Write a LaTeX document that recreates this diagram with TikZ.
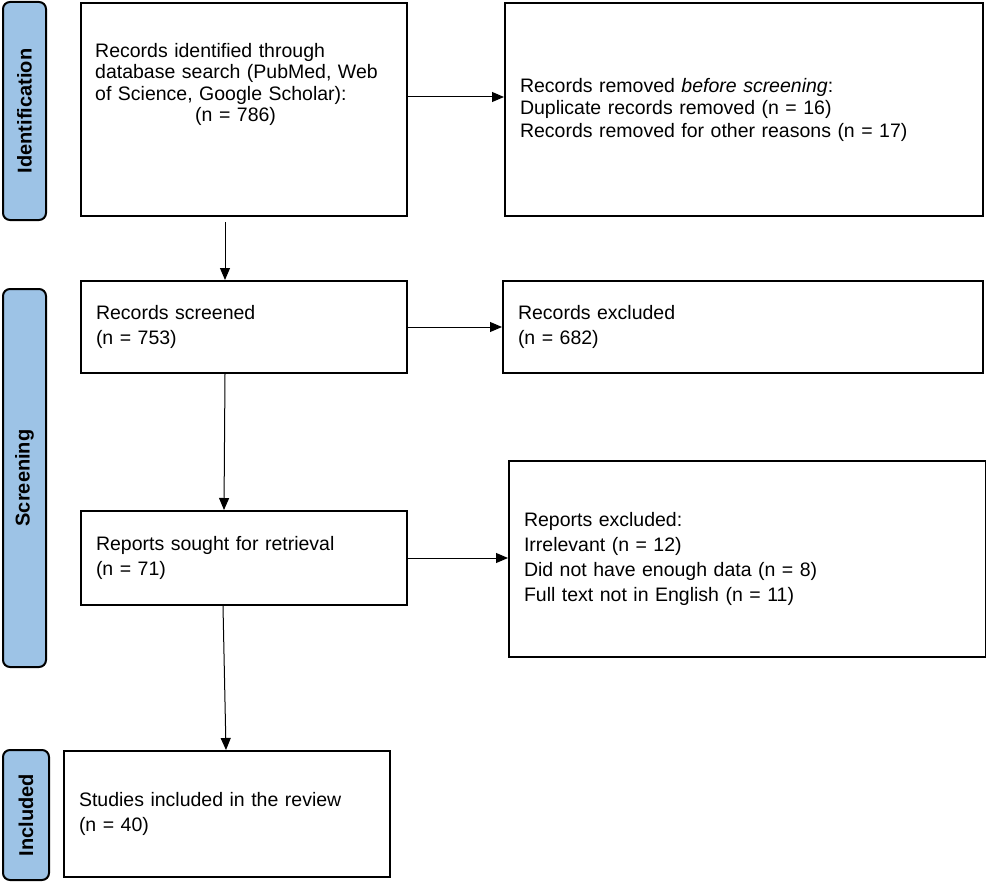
\documentclass[tikz,border=0pt]{standalone}
\usepackage{fontspec}
\setmainfont{Liberation Sans}
\usetikzlibrary{arrows.meta}
\definecolor{barblue}{RGB}{157,195,230}
\begin{document}
\begin{tikzpicture}[x=1pt,y=-1pt,
  box/.style={draw=black,line width=2pt,fill=white,rectangle,inner xsep=15pt,inner ysep=0pt,anchor=north west,align=left,font=\fontsize{19.5}{25}\selectfont},
  side/.style={draw=black,line width=2pt,fill=barblue,rounded corners=7pt,rotate=90,inner sep=0pt,font=\fontsize{20}{22}\selectfont\bfseries},
  txt/.style={inner sep=0pt,align=left,font=\fontsize{19.5}{21.5}\selectfont},
  arr/.style={line width=1pt,-{Triangle[length=12pt,width=10pt]}}]
\useasboundingbox (0,0) rectangle (986,883);
% side bars
\node[side,minimum width=218pt,minimum height=43pt] (sid) at (24.5,111) {Identification};
\node[side,minimum width=378pt,minimum height=43pt] (sscr) at (24.5,478) {Screening};
\node[side,minimum width=130pt,minimum height=46pt] (sinc) at (26,815) {Included};
% boxes
\node[box,minimum width=326pt,minimum height=213pt] (b1) at (80,2) {};
\node[txt,anchor=north west,text width=300pt] (t1) at (95,43) {Records identified through\\database search (PubMed, Web\\of Science, Google Scholar):\\\hspace*{100pt}(n = 786)};
\node[box,minimum width=478pt,minimum height=213pt,text width=448pt,font=\fontsize{19.5}{22.5}\selectfont] (b2) at (504,2) {Records removed \emph{before screening}:\\Duplicate records removed (n = 16)\\Records removed for other reasons (n = 17)};
\node[box,minimum width=326pt,minimum height=92pt,text width=296pt] (b3) at (80,280) {Records screened\\(n = 753)};
\node[box,minimum width=480pt,minimum height=92pt,text width=450pt] (b4) at (502,280) {Records excluded\\(n = 682)};
\node[box,minimum width=326pt,minimum height=94pt,text width=296pt] (b5) at (80,510) {Reports sought for retrieval\\(n = 71)};
\node[box,minimum width=477pt,minimum height=196pt,text width=447pt] (b6) at (508,460) {Reports excluded:\\Irrelevant (n = 12)\\Did not have enough data (n = 8)\\Full text not in English (n = 11)};
\node[box,minimum width=326pt,minimum height=126pt,text width=296pt] (b7) at (63,750) {Studies included in the review\\(n = 40)};
% connectors
\draw[arr] (b1.east |- 0,97) -- (b2.west |- 0,97);
\draw[arr] (b3.east) -- (b4.west);
\draw[arr] (b5.east) -- (b6.west |- b5.east);
\coordinate (s1) at (225,222);
\draw[arr] (s1) -- (s1 |- b3.north);
\draw[arr] (b3.south -| 225,0) -- (b5.north -| 224,0);
\draw[arr] (b5.south -| 223,0) -- (b7.north -| 226,0);
\end{tikzpicture}
\end{document}
